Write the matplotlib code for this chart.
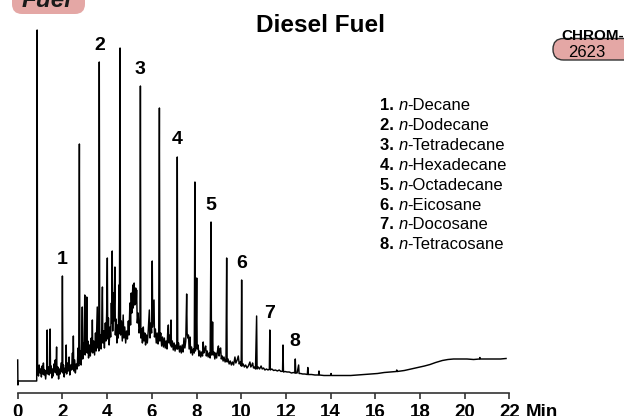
import matplotlib
matplotlib.use('Agg')
import matplotlib.pyplot as plt
from matplotlib.patches import FancyBboxPatch

# Chromatogram trace (retention time in min, detector response)
time_min = [
    0.00, 0.01, 0.03, 0.85, 0.87, 0.89, 0.93, 0.96, 1.00, 1.03,
    1.06, 1.09, 1.12, 1.15, 1.18, 1.21, 1.25, 1.28, 1.30, 1.32,
    1.34, 1.38, 1.41, 1.43, 1.45, 1.47, 1.50, 1.53, 1.56, 1.59,
    1.62, 1.65, 1.68, 1.71, 1.74, 1.76, 1.80, 1.83, 1.86, 1.90,
    1.94, 1.98, 2.00, 2.02, 2.05, 2.08, 2.12, 2.15, 2.17, 2.19,
    2.23, 2.26, 2.30, 2.33, 2.37, 2.41, 2.45, 2.47, 2.49, 2.51,
    2.55, 2.58, 2.62, 2.66, 2.70, 2.73, 2.76, 2.78, 2.81, 2.84,
    2.87, 2.89, 2.91, 2.94, 2.97, 3.00, 3.02, 3.05, 3.07, 3.09,
    3.11, 3.14, 3.17, 3.21, 3.25, 3.29, 3.32, 3.34, 3.36, 3.40,
    3.44, 3.48, 3.51, 3.54, 3.56, 3.58, 3.61, 3.63, 3.65, 3.67,
    3.70, 3.73, 3.76, 3.79, 3.81, 3.85, 3.88, 3.92, 3.95, 3.98,
    4.01, 4.03, 4.06, 4.09, 4.13, 4.16, 4.19, 4.21, 4.23, 4.25,
    4.28, 4.31, 4.35, 4.37, 4.40, 4.44, 4.47, 4.50, 4.53, 4.55,
    4.58, 4.60, 4.64, 4.68, 4.72, 4.75, 4.79, 4.83, 4.87, 4.91,
    4.95, 4.98, 5.02, 5.05, 5.08, 5.11, 5.15, 5.17, 5.21, 5.24,
    5.28, 5.30, 5.32, 5.35, 5.39, 5.43, 5.47, 5.49, 5.51, 5.55,
    5.58, 5.62, 5.65, 5.69, 5.72, 5.76, 5.80, 5.84, 5.89, 5.92,
    5.96, 5.99, 6.02, 6.04, 6.07, 6.10, 6.12, 6.16, 6.20, 6.24,
    6.28, 6.31, 6.34, 6.36, 6.40, 6.44, 6.48, 6.52, 6.56, 6.60,
    6.64, 6.68, 6.71, 6.74, 6.77, 6.81, 6.84, 6.86, 6.88, 6.92,
    6.96, 7.00, 7.04, 7.08, 7.12, 7.14, 7.16, 7.20, 7.24, 7.28,
    7.32, 7.36, 7.40, 7.44, 7.48, 7.52, 7.56, 7.58, 7.61, 7.64,
    7.67, 7.71, 7.74, 7.78, 7.82, 7.86, 7.90, 7.93, 7.95, 7.98,
    8.01, 8.03, 8.07, 8.11, 8.15, 8.19, 8.23, 8.27, 8.30, 8.33,
    8.37, 8.41, 8.44, 8.48, 8.52, 8.57, 8.61, 8.65, 8.67, 8.70,
    8.72, 8.74, 8.78, 8.82, 8.86, 8.90, 8.94, 8.98, 9.01, 9.05,
    9.08, 9.11, 9.15, 9.19, 9.23, 9.28, 9.32, 9.35, 9.37, 9.41,
    9.46, 9.51, 9.56, 9.61, 9.66, 9.72, 9.76, 9.82, 9.87, 9.91,
    9.96, 10.00, 10.02, 10.04, 10.09, 10.14, 10.20, 10.26, 10.32, 10.39,
    10.43, 10.48, 10.51, 10.55, 10.60, 10.64, 10.69, 10.71, 10.76, 10.82,
    10.89, 10.94, 11.00, 11.06, 11.13, 11.20, 11.26, 11.28, 11.30, 11.37,
    11.45, 11.53, 11.62, 11.70, 11.78, 11.85, 11.87, 11.89, 11.96, 12.05,
    12.15, 12.25, 12.34, 12.40, 12.42, 12.44, 12.50, 12.57, 12.59, 12.66,
    12.75, 12.85, 12.96, 12.98, 13.00, 13.15, 13.30, 13.46, 13.48, 13.50,
    13.70, 13.90, 14.00, 14.02, 14.04, 14.30, 14.60, 14.90, 15.20, 15.50,
    15.80, 16.10, 16.40, 16.70, 16.94, 16.96, 16.98, 17.30, 17.60, 17.90,
    18.20, 18.45, 18.70, 19.00, 19.25, 19.50, 19.80, 20.10, 20.40, 20.66,
    20.68, 20.70, 21.00, 21.30, 21.60, 21.85,
]
signal = [
    33, 8, 12, 12, 363, 25, 17, 28, 20, 24,
    16, 27, 19, 30, 18, 23, 14, 22, 20, 63,
    19, 26, 18, 22, 64, 20, 27, 15, 24, 17,
    29, 21, 33, 20, 46, 18, 26, 14, 24, 19,
    30, 21, 117, 20, 28, 16, 25, 21, 48, 19,
    30, 22, 36, 18, 28, 23, 40, 24, 57, 22,
    33, 20, 29, 24, 45, 27, 249, 30, 42, 28,
    55, 86, 34, 50, 40, 98, 38, 60, 44, 96,
    40, 52, 35, 48, 37, 55, 41, 73, 40, 52,
    38, 60, 42, 70, 86, 45, 55, 42, 331, 46,
    58, 44, 64, 106, 50, 62, 45, 70, 52, 80,
    135, 54, 75, 48, 66, 56, 90, 70, 142, 62,
    100, 72, 126, 58, 74, 50, 68, 55, 108, 60,
    345, 58, 72, 52, 78, 55, 66, 50, 62, 54,
    72, 58, 90, 68, 100, 80, 108, 85, 110, 88,
    105, 90, 103, 70, 80, 60, 66, 307, 55, 64,
    50, 66, 52, 60, 48, 58, 50, 62, 83, 55,
    70, 60, 132, 66, 80, 93, 56, 64, 50, 60,
    49, 55, 285, 52, 60, 47, 56, 46, 55, 45,
    52, 44, 60, 68, 50, 58, 48, 73, 46, 52,
    43, 50, 42, 48, 44, 236, 44, 50, 41, 47,
    40, 48, 41, 55, 45, 52, 99, 60, 55, 58,
    44, 56, 40, 46, 38, 44, 40, 211, 42, 50,
    115, 44, 48, 37, 42, 36, 41, 37, 51, 40,
    44, 47, 37, 42, 36, 40, 35, 171, 38, 45,
    71, 38, 41, 34, 40, 35, 42, 47, 37, 44,
    45, 34, 37, 32, 36, 31, 34, 135, 31, 34,
    29, 32, 28, 31, 28, 36, 30, 33, 37, 29,
    31, 27, 113, 27, 29, 26, 28, 25, 27, 31,
    26, 28, 30, 25, 26, 24, 77, 24, 26, 24,
    27, 24, 25, 23, 24, 23, 24, 63, 23, 24,
    22.5, 23, 22, 23, 21.5, 22, 48, 21, 21.5, 21,
    21, 20, 20.5, 20, 34, 20, 20, 28, 19.5, 19.5,
    19, 19, 18.5, 25.5, 18.5, 18.5, 18, 18, 22, 18,
    17.5, 17.5, 17.5, 19.5, 17.5, 17.5, 17.5, 17.5, 18, 18.5,
    19, 19.5, 20.5, 21, 21.5, 23, 21.5, 22.5, 24, 25.5,
    27, 28.5, 30.5, 32.5, 33.5, 34, 34, 34, 33.5, 34,
    35.5, 34, 34, 34, 34, 34.5,
]

peak_numbers = ['1', '2', '3', '4', '5', '6', '7', '8']
peak_times = [2.00, 3.65, 5.49, 7.14, 8.65, 10.02, 11.28, 12.42]
compounds = ['Decane', 'Dodecane', 'Tetradecane', 'Hexadecane',
             'Octadecane', 'Eicosane', 'Docosane', 'Tetracosane']
x_ticks = list(range(0, 23, 2))

plt.rcParams['font.family'] = 'Liberation Sans'
pink = '#e4a7a5'

fig = plt.figure(figsize=(6.24, 4.16), dpi=100)
ax = fig.add_axes([17.7 / 624, 23 / 416, 491.7 / 624, 365 / 416])
ax.plot(time_min, signal, color='black', lw=1.05, clip_on=False)
ax.set_xlim(0, 22)
ax.set_ylim(0, 365)
for s in ['left', 'right', 'top']:
    ax.spines[s].set_visible(False)
ax.spines['bottom'].set_linewidth(1.2)
ax.spines['bottom'].set_color('#333333')
ax.set_yticks([])
ax.set_xticks(x_ticks, labels=[str(t) for t in x_ticks],
              fontsize=13.5, fontweight='bold')
ax.tick_params(axis='x', length=4.3, width=1.2, color='#333333', pad=3.5)
ax.annotate('Min', xy=(22, 0), xytext=(16, -11), textcoords='offset pixels',
            ha='left', va='top', fontsize=13.5, fontweight='bold')

# peak numbers above the n-alkane peaks
for num, t in zip(peak_numbers, peak_times):
    top = signal[time_min.index(t)]
    ax.annotate(num, xy=(t, top), xytext=(0, 17), textcoords='offset pixels',
                ha='center', va='center', fontsize=14, fontweight='bold',
                annotation_clip=False)

# overlay in pixel coordinates for title, badges and the peak list
ov = fig.add_axes([0, 0, 1, 1])
ov.set_xlim(0, 624)
ov.set_ylim(416, 0)
ov.axis('off')

ov.text(321, 32, 'Diesel Fuel', ha='center', va='baseline', fontsize=17.5,
        fontweight='bold')

ov.add_patch(FancyBboxPatch((12, -30), 73, 44, boxstyle='round,pad=0,rounding_size=10',
                            fc=pink, ec='none'))
ov.text(47, 7, 'Fuel', ha='center', va='baseline', fontsize=17.5, fontweight='bold',
        style='italic', color='#1a1a1a')

ov.add_patch(FancyBboxPatch((553, 38.5), 100, 21.5, boxstyle='round,pad=0,rounding_size=10.5',
                            fc=pink, ec='#333333', lw=1))
ov.text(593, 39.5, 'CHROM-', ha='center', va='baseline', fontsize=11,
        fontweight='bold')
ov.text(587, 57, '2623', ha='center', va='baseline', fontsize=12)

for i, (num, name) in enumerate(zip(peak_numbers, compounds)):
    yb = 110 + 19.9 * i
    t1 = ov.text(380, yb, num + '. ', ha='left', va='baseline', fontsize=12, fontweight='bold')
    t2 = ov.annotate('n', xy=(1, yb), xycoords=(t1, 'data'), ha='left', va='baseline',
                     fontsize=12, style='italic')
    ov.annotate('-' + name, xy=(1, yb), xycoords=(t2, 'data'), ha='left', va='baseline',
                fontsize=12)

fig.savefig('out.png', dpi=100)
